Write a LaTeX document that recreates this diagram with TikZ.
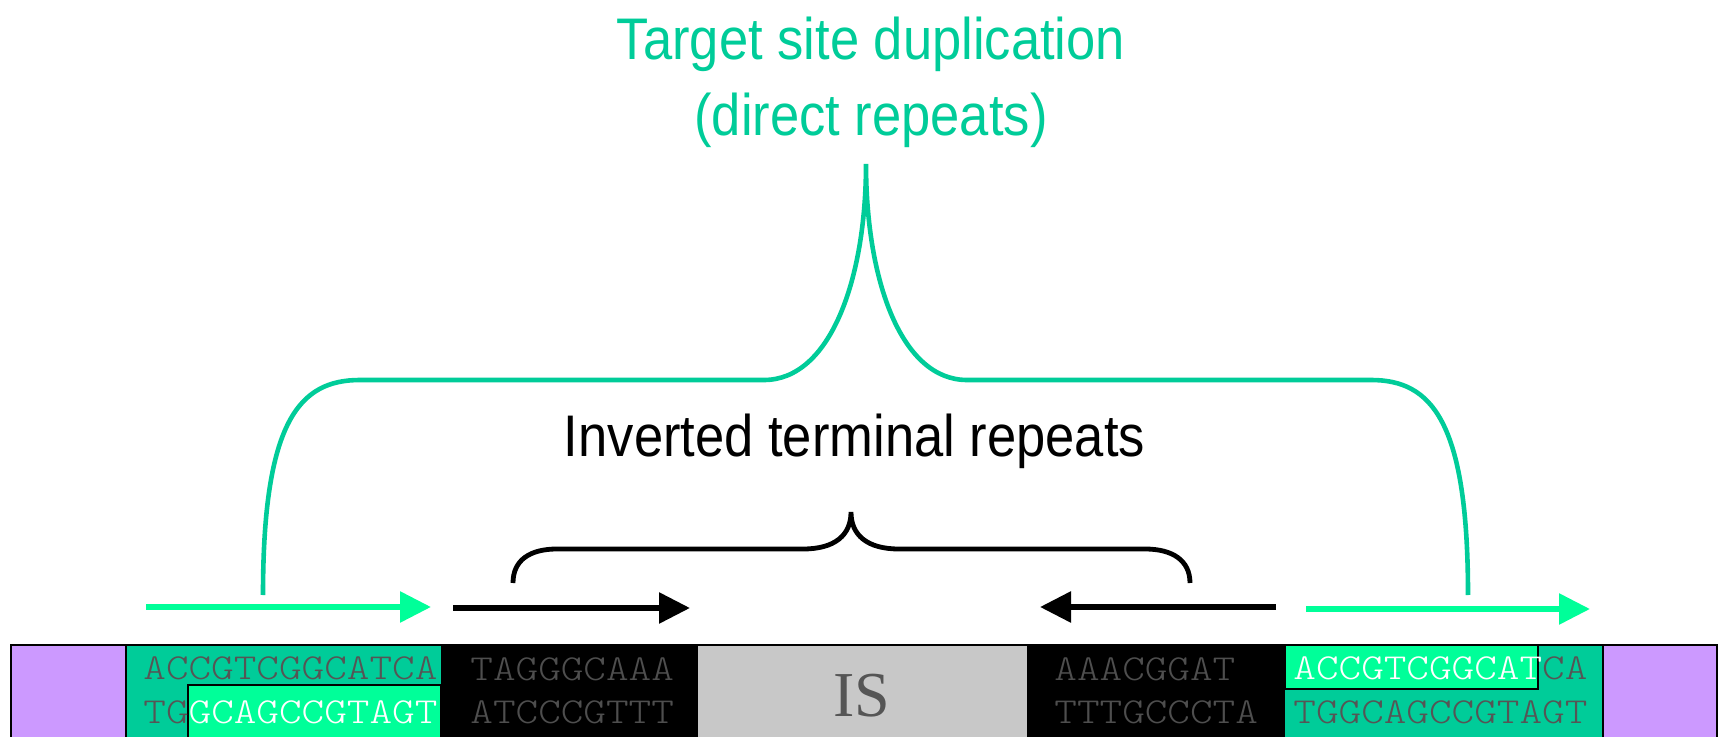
\documentclass[tikz,border=0pt]{standalone}
\usepackage{fontspec}
\usetikzlibrary{arrows.meta}
\newfontfamily\labelfont[FakeStretch=0.895]{Liberation Sans}
\newfontfamily\seqfont[Extension=.otf, FakeStretch=1.177]{lmmonolt10-regular}
\newfontfamily\isfont{Liberation Serif}
\definecolor{tsdgreen}{RGB}{0,204,153}
\definecolor{brightgreen}{RGB}{0,255,153}
\definecolor{flankpurple}{RGB}{204,153,255}
\definecolor{isgray}{RGB}{200,200,200}
\definecolor{seqgray}{RGB}{85,85,85}
\definecolor{irgray}{RGB}{78,78,78}
\tikzset{
  seq/.style={font=\seqfont\fontsize{18.3}{20}\selectfont, text=seqgray, anchor=base west, inner sep=0pt},
  irseq/.style={seq, text=irgray},
  title/.style={font=\labelfont\fontsize{29.35}{35}\selectfont, anchor=base, inner sep=0pt},
  repeatarrow/.style={line width=2.9pt, -{Triangle[length=15.5pt,width=15pt]}},
  tsdarrow/.style={repeatarrow, draw=brightgreen},
  itrarrow/.style={repeatarrow, draw=black},
  tsdbrace/.style={draw=tsdgreen, line width=2.3pt},
  itrbrace/.style={draw=black, line width=2.4pt},
  outline/.style={draw=black, line width=1pt}
}
\begin{document}
\begin{tikzpicture}[x=0.5pt,y=-0.5pt]
\useasboundingbox (0,0) rectangle (1719,737);

% DNA strip: flanks, target sites, inverted repeats and the IS core
\fill[flankpurple] (11,645) rectangle (126,750);
\fill[tsdgreen] (126,645) rectangle (441,750);
\fill[black] (441,645) rectangle (698,750);
\fill[isgray] (698,645) rectangle (1027,750);
\fill[black] (1027,645) rectangle (1285,750);
\fill[tsdgreen] (1285,645) rectangle (1603,750);
\fill[flankpurple] (1603,645) rectangle (1717,750);
\filldraw[outline, fill=brightgreen] (188,685) rectangle (441,750);
\filldraw[outline, fill=brightgreen] (1285,645) rectangle (1538,689);
\draw[outline] (11,750) |- (1717,645) -- (1717,750);
\draw[outline] (126,645) -- (126,750);
\draw[outline] (1603,645) -- (1603,750);

% sequences
\node[seq] (ltop) at (143,679) {ACCGTCGGCATCA};
\node[seq] (lbot) at (143,723) {TG\textcolor{white}{GCAGCCGTAGT}};
\node[irseq] (irl1) at (470,680) {TAGGGCAAA};
\node[irseq] (irl2) at (470,723) {ATCCCGTTT};
\node[irseq] (irr1) at (1054,680) {AAACGGAT};
\node[irseq] (irr2) at (1054,723) {TTTGCCCTA};
\node[seq] (rtop) at (1293,679) {\textcolor{white}{ACCGTCGGCAT}CA};
\node[seq] (rbot) at (1293,723) {TGGCAGCCGTAGT};
\node[font=\isfont\fontsize{32}{34}\selectfont, text=seqgray, anchor=base, inner sep=0pt] (is) at (862,716) {IS};

% labels
\node[title, text=tsdgreen] (tsd1) at (871,60) {Target site duplication};
\node[title, text=tsdgreen] (tsd2) at (871,136) {(direct repeats)};
\node[title] (itr) at (854.5,457) {Inverted terminal repeats};

% repeat arrows
\coordinate (ga1s) at (146,607);  \coordinate (ga1e) at (431,607);
\coordinate (ba1s) at (453,608);  \coordinate (ba1e) at (690,608);
\coordinate (ba2s) at (1276,607); \coordinate (ba2e) at (1040,607);
\coordinate (ga2s) at (1306,609); \coordinate (ga2e) at (1590,609);
\draw[tsdarrow] (ga1s) -- (ga1e);
\draw[itrarrow] (ba1s) -- (ba1e);
\draw[itrarrow] (ba2s) -- (ba2e);
\draw[tsdarrow] (ga2s) -- (ga2e);

% brace over the target site duplications
\coordinate (tsdL) at (263,595);
\coordinate (tsdtip) at (866,164);
\coordinate (tsdR) at (1468,595);
\draw[tsdbrace] (tsdL) .. controls (263,420) and (300,380) .. (360,380)
  -- (764,380) .. controls (830,380) and (866,280) .. (tsdtip)
  .. controls (866,280) and (901,380) .. (967,380)
  -- (1371,380) .. controls (1431,380) and (1468,420) .. (tsdR);

% brace over the inverted terminal repeats
\coordinate (itrL) at (513,583);
\coordinate (itrtip) at (851,512);
\coordinate (itrR) at (1190,583);
\draw[itrbrace] (itrL) .. controls (513,560) and (530,549) .. (557,549)
  -- (803,549) .. controls (835,549) and (851,535) .. (itrtip)
  .. controls (851,535) and (867,549) .. (899,549)
  -- (1145,549) .. controls (1172,549) and (1190,560) .. (itrR);
\end{tikzpicture}
\end{document}
